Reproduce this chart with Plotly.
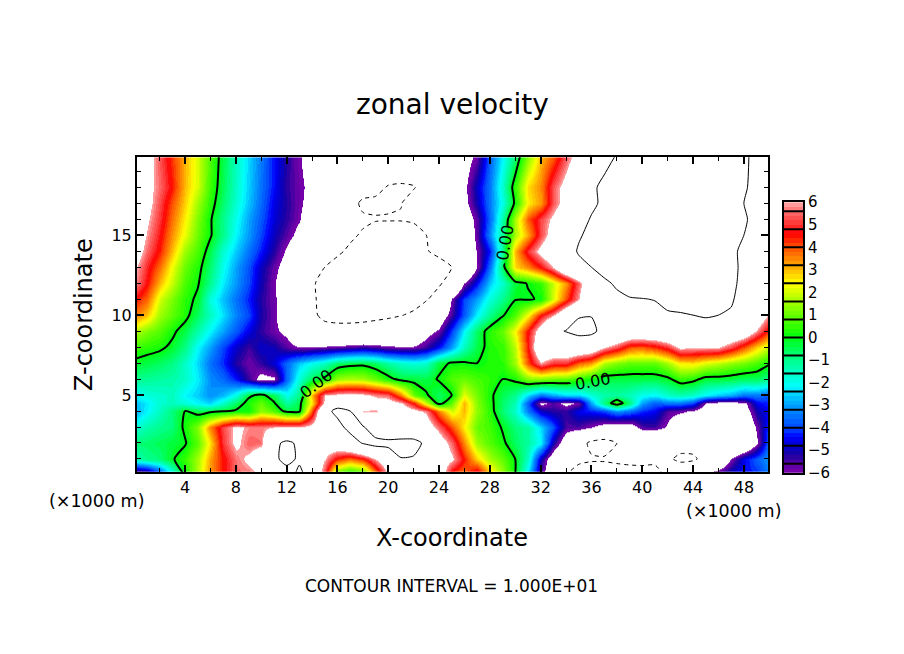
import numpy as np
import plotly.graph_objects as go

x_km = list(range(0, 51))
y_km = [0, 1, 2, 3, 4, 4.5, 5, 6, 7, 8, 9, 10, 11, 12, 13, 14, 15, 16, 17, 18, 20]

row_00 = [-7,-6.5,-4.6,-2.3,0.1,1.8,3.4,4.5,5.5,5.5,6,7,8.5,10.8,8.5,5,0.3,-0.5,0,3.2,5.9,7.5,8,8,7.5,4,3.5,5.5,3,1.5,0,-2.5,-5.5,-7.5,-10,-11,-11,-11,-11,-11,-11,-11,-9.5,-8,-6.8,-5.6,-5,-4.6,-4.4,-4.2,-3.4]
row_01 = [-1.5,-1,-0.8,-0.1,0.5,1.6,3.2,4.5,5.6,6.3,7.5,9.3,11,9.5,7,6,4.3,3.6,4.3,6,7.5,9.9,9.8,8.5,7,6.2,4.5,2.8,1.6,0.9,0,-1.6,-5,-7,-8.5,-9.5,-9.8,-9.8,-9.6,-9.4,-9.3,-9.4,-9.6,-10.5,-10.4,-9.2,-8,-5.9,-4.5,-3.7,-3.1]
row_02 = [-0.8,-0.7,-0.5,-0.3,-0.1,0.9,2.6,5,6.3,5.4,5.6,9.3,10.6,9.5,7,7,7.5,8.5,10.2,11,11,11,10.8,9.5,7,5.5,3.5,1.5,0.8,0.2,-0.6,-1.2,-2.2,-5,-7,-9,-10.5,-11,-10,-9.5,-9,-9,-9,-9,-9,-9,-9,-8.5,-8,-6.1,-3.5]
row_03 = [-1.8,-1.3,-1,-0.8,0.2,1.3,3.5,5.2,6.3,5.8,5.7,6,6.1,6.1,6.5,7.5,9,11,10.3,8,6.2,7,7.5,7,5.5,4,2.5,1,0.6,-0.1,-0.8,-1.2,-2.5,-3.8,-5.5,-5.5,-6,-6.5,-6.8,-6.8,-5.5,-5.4,-6.2,-7.5,-8,-8.5,-8.8,-8.5,-7.5,-5.8,-4]
row_04 = [-3,-2.2,-1.5,-0.8,0,-0.4,-0.3,-0.1,0.1,0.1,1.4,0.8,-0.3,-0.3,4,9,10.8,10,5.9,5.9,7,7,6.5,5.8,3.6,2,3,1.4,0.4,-0.8,-1.6,-3.4,-4.8,-5.2,-5.3,-4.5,-4.3,-4,-3.2,-3.6,-4.2,-4.5,-5.6,-5.8,-6.2,-7,-8,-8,-6.8,-5,-4.5]
row_045 = [-2.8,-2.3,-1.7,-1.5,-1.8,-2.2,-2.5,-1.6,-0.6,0.3,1,0.1,-1.2,-0.4,2.6,6.4,8.5,8,6.8,6.6,6.8,6.2,4.5,2,-0.5,1,3.1,1.3,0.3,-0.7,-1.4,-3.8,-6.3,-5.6,-6.3,-5.8,-3,-0.9,0.8,-0.9,-3,-3.8,-3.5,-3.5,-4,-6.1,-6.5,-6.5,-6.3,-4.5,-4.2]
row_05 = [-2.2,-1.8,-1.7,-1.5,-2.2,-2.6,-3.2,-2.8,-1.9,-0.2,0.2,-0.5,-2,-1,3,6,6.3,6.5,6.3,5.8,5.5,3.6,1,0.1,-0.6,0,2.2,1.1,0.2,-0.5,-1,-2.5,-3.5,-3,-2.5,-2.5,-1.8,-1.3,-1.2,-1.5,-2,-2.2,-1.6,-1.4,-1.6,-2.2,-2.6,-2.9,-3.5,-3.4,-3.8]
row_06 = [-1,-1.1,-1.2,-1.3,-1.6,-2.3,-3.2,-3.6,-4.3,-5.4,-6.4,-6.2,-3.6,-1.8,-0.5,0.2,1.5,1.7,1.6,1,0.3,-0.3,-0.3,-0.4,0.1,0.8,1,0.7,0.4,0,0.2,1.2,1.2,1,0.9,0.4,0,-0.4,-0.4,-0.4,-0.4,-0.4,-0.2,0.5,0.3,-0.3,-0.3,-0.4,-0.6,-0.6,-1]
row_07 = [-0.2,-0.4,-0.6,-0.9,-1.6,-2.5,-3.5,-4.2,-5.2,-5.8,-5.3,-4.7,-3.6,-2.6,-2,-1.5,-0.7,-0.4,-0.3,-0.6,-1.2,-1.6,-1.8,-1.6,-0.3,0.1,0.1,0,0.3,0.4,1.5,4,5.9,5,5,3.8,3.3,1.7,1.2,0.9,0.9,0.9,1.6,2.5,2.6,2.1,1.8,1.4,1.1,0.7,0.1]
row_08 = [0.6,0.4,0.2,-0.2,-0.9,-2.2,-3,-4,-4.8,-5.4,-4.8,-5,-5.6,-6,-5.9,-5.8,-5.7,-5.5,-5.3,-5.5,-5.8,-5.9,-5.9,-5.4,-4.4,-3,-1.5,-0.4,0.3,0.5,1.8,4.6,8,8,8,8,7.5,6.1,5.2,4,3.9,4.3,5,6.3,6.1,6.1,6.1,5.2,4,2.8,1.9]
row_09 = [1.8,1.2,0.8,0.2,-0.4,-1.3,-2.2,-3,-3.8,-4.6,-5.3,-5.8,-6.3,-7.6,-8.6,-9.2,-9,-9,-9,-8.8,-8.5,-8,-7.5,-6.5,-5.8,-4,-2.2,-0.6,0.4,1,2.4,4.6,7,9.5,10.1,10.8,10.7,9,8.5,8,8,8,8.5,9,9,9,8.5,8,7.5,5.8,4.2]
row_10 = [3.7,2.9,1.5,0.9,0.3,-0.6,-1.5,-2.4,-3.3,-4,-5.1,-5.8,-7,-8.6,-9.6,-10.5,-11,-11,-10.8,-10.6,-10.4,-10.1,-9.6,-8.4,-7,-5.4,-3.8,-2.2,-1,-0.1,0.7,2.4,4.6,5.9,8,9.8,9.9,9,8.5,8.5,8.8,9.2,9.6,9.8,10,10.2,10,9.6,8.2,7.5,5.8]
row_11 = [4.6,3.8,2,1.2,0.4,-0.2,-1.8,-2.7,-3.5,-4.3,-5.2,-5.8,-7,-8.6,-9.8,-10.4,-11,-11,-11,-11,-11,-11,-11,-10.2,-9,-5.8,-4,-3,-1.8,-1,-0.05,-0.1,0.1,2,4,6,8.4,9,9.4,9.7,9.9,10.1,11,11,11,11,11,10.4,8.6,7.6,6.8]
row_12 = [6,4.6,3,1.9,0.7,0.1,-1,-2.3,-3.1,-4,-5,-5.9,-7,-8.5,-9.7,-10.8,-11.5,-11.5,-11.5,-11.5,-11.5,-11.5,-11.5,-11,-10.3,-9,-6,-4.4,-2.6,-1.6,-0.3,0.05,0.5,1.9,3.3,5.5,7.5,9.5,10.4,12,12,12,12,12,12,12,12,10.5,9.4,8.5,7.8]
row_13 = [6.3,4.9,3.7,2.3,1,0.3,-0.7,-2,-3,-3.9,-4.9,-5.7,-6.6,-7.8,-9,-10,-10.6,-11,-11,-11.2,-11.2,-11.2,-11.2,-11,-10.6,-10,-8.5,-6,-3.5,-0.5,2.7,3.5,4.6,6,8.4,9.4,10,11,12,12,12,12,12,12,12,12,12,10.6,9.5,8.5,8]
row_14 = [7,5.5,4.4,3,1.5,0.7,-0.4,-1.7,-2.6,-3.5,-4.3,-5.2,-6.2,-7.2,-8.2,-9,-9.7,-10.3,-10.8,-11,-11,-11,-10.8,-10.1,-9.6,-8.8,-7.6,-5.9,-4.3,-1,3,5,6.5,7.8,9,10.2,11,11.8,11.8,11.8,11.8,11.8,11.8,11.8,11.8,11.8,11.8,10.4,9.6,9,8.5]
row_15 = [7.2,5.9,4.7,3.4,2.2,1,0.1,-1,-2.2,-3.1,-4,-4.9,-5.6,-6.4,-7.5,-8.4,-9.2,-9.7,-10.2,-10.6,-10.8,-10.8,-10.6,-10,-9.3,-8.5,-7.6,-5.6,-3.2,-1,1.6,3.2,5.2,6.8,8.2,9.8,10.5,11.5,11.5,11.5,11.5,11.5,11.5,11.5,11.5,11.5,11.5,10.8,10,9.3,8.8]
row_16 = [7.5,6.2,5,3.7,2.5,1.2,0.1,-1,-2,-3,-3.8,-4.7,-5.3,-5.9,-7,-8,-9,-9.9,-9.7,-9.9,-9.9,-9.9,-9.8,-9.2,-8.6,-7.8,-7,-5.6,-3.6,-1.2,1.6,3.9,5.2,6.3,7.6,9,10.2,10.8,11.5,11.5,11.5,11.5,11.5,11.5,11.5,11.5,11.5,11,10.2,9.5,9]
row_17 = [7.8,6.5,5.2,4,2.8,1.5,0.4,-0.7,-1.7,-2.7,-3.6,-4.6,-5.2,-5.8,-6.5,-7.3,-8.2,-9.2,-10.4,-10.3,-10.2,-10.05,-9.4,-8.9,-8.2,-7.5,-6.4,-5,-3.4,-1.9,0.2,2.5,3.3,5.3,6.8,8.3,9.5,10.5,11.3,11.3,11.3,11.3,11.3,11.3,11.3,11.3,11.3,11,10,9.3,9]
row_18 = [8,6.5,5.5,4.5,3,2,0.6,-0.5,-1.6,-2.6,-3.5,-4.4,-5.3,-5.8,-6.3,-7,-7.8,-8.4,-9,-9.6,-10.1,-10.2,-10.1,-9.4,-8.6,-7.8,-6.3,-4.8,-3.4,-1.6,0.5,2.7,3.5,5.3,6.6,8,9.6,10.5,11,11.3,11.5,11.5,11.5,11.5,11.5,11.5,11.5,11,10.2,9.5,9.2]
row_20 = [8.5,6.6,5.3,4.2,3.1,2,0.8,-0.4,-1.5,-2.5,-3.4,-4.4,-5.2,-5.9,-6.6,-7,-7.5,-8,-8.3,-8.5,-8.5,-8.5,-8.3,-8,-7.6,-7.2,-6.6,-5.8,-3.7,-2.2,-0.8,1.2,3,3.8,5.3,6.8,8,9.2,10.1,10.5,10.8,11,11,11,11,11,10.8,10.5,10.2,9.7,9.5]

all_rows = [row_00, row_01, row_02, row_03, row_04, row_045, row_05, row_06, row_07, row_08, row_09,
            row_10, row_11, row_12, row_13, row_14, row_15, row_16, row_17, row_18, row_20]
z = np.array(all_rows, dtype=float)

# Grid nodes left out of the zero contour so that it breaks where its labels sit.
label_gap_x = [14, 14, 29, 29, 35, 36]
label_gap_y = [5, 6, 14, 15, 6, 6]
zero_labels_text = ["0.00", "0.00", "0.00"]
zero_labels_x = [14.35, 29.2, 36.1]
zero_labels_y = [5.75, 14.55, 5.85]
zero_labels_angle = [-38, -80, -10]

z_zero = z.copy()
for gx, gy in zip(label_gap_x, label_gap_y):
    z_zero[y_km.index(gy), x_km.index(gx)] = np.nan

scale_values = [-6, -5.6, -5.2, -4.8, -4.4, -4, -3.2, -2.4, -2.2, -1.6, -0.8, 0, 0.4, 1.6, 2.4, 3.2, 4, 4.6, 5, 5.6, 6]
scale_r = [125, 90, 30, 0, 0, 0, 0, 0, 0, 0, 0, 0, 40, 165, 255, 255, 255, 255, 255, 255, 255]
scale_g = [0, 0, 0, 0, 0, 70, 140, 225, 255, 255, 255, 255, 255, 255, 255, 165, 80, 0, 50, 110, 170]
scale_b = [170, 165, 160, 200, 255, 255, 255, 255, 255, 200, 120, 20, 0, 0, 0, 0, 0, 0, 50, 110, 170]

BAND = 0.2
band_edges = np.round(np.arange(-6, 6 + BAND / 2, BAND), 3)
ZMIN, ZMAX = -7.0, 7.0
def pos(v):
    return (float(v) - ZMIN) / (ZMAX - ZMIN)

colorscale = [[0, "#ffffff"], [pos(-6), "#ffffff"]]
for lo, hi in zip(band_edges[:-1], band_edges[1:]):
    mid = (lo + hi) / 2
    c = "rgb(%d,%d,%d)" % tuple(int(round(np.interp(mid, scale_values, ch))) for ch in (scale_r, scale_g, scale_b))
    colorscale += [[pos(lo), c], [pos(hi), c]]
colorscale += [[pos(6), "#ffffff"], [1, "#ffffff"]]

cbar_ticks = [-6, -5, -4, -3, -2, -1, 0, 1, 2, 3, 4, 5, 6]
cbar_edges = [-5.6, -4.8, -4, -3.2, -2.4, -1.6, -0.8, 0, 0.8, 1.6, 2.4, 3.2, 4, 4.8, 5.6]

W, H = 904, 654
FONT = "DejaVu Sans"

def fy(py):
    return 1 - (py - 8.5) / 637

fig = go.Figure()

fig.add_trace(go.Heatmap(x=x_km, y=y_km, z=z, zsmooth="best", zmin=ZMIN, zmax=ZMAX,
                         colorscale=colorscale, showscale=False, hoverinfo="skip"))

def contour(field, level, width, dash="solid"):
    return go.Contour(x=x_km, y=y_km, z=field, autocontour=False, showscale=False, hoverinfo="skip",
                      connectgaps=False,
                      contours=dict(start=level, end=level, size=1, coloring="none", showlabels=False),
                      line=dict(color="black", width=width, dash=dash, smoothing=0.6))

fig.add_trace(contour(z, 10, 1))
fig.add_trace(contour(z, -10, 1, dash="4px,4px"))
fig.add_trace(contour(z_zero, 0, 2))

fig.add_trace(go.Heatmap(x=[0, 1], y=band_edges, z=[[(a + b) / 2] for a, b in zip(band_edges[:-1], band_edges[1:])],
                         zmin=ZMIN, zmax=ZMAX, colorscale=colorscale, showscale=False, hoverinfo="skip",
                         xaxis="x2", yaxis="y2"))
line_x, line_y = [], []
for e in cbar_edges:
    line_x += [0, 1, None]
    line_y += [e, e, None]
fig.add_trace(go.Scatter(x=line_x, y=line_y, mode="lines", line=dict(color="black", width=2),
                         hoverinfo="skip", showlegend=False, xaxis="x2", yaxis="y2"))

axis_common = dict(showgrid=False, zeroline=False, showline=True, linecolor="black", linewidth=2,
                   mirror="ticks", ticks="inside", tickcolor="black", tickwidth=2, ticklen=7,
                   tickfont=dict(family=FONT, size=16, color="black"))
fig.update_layout(
    width=W, height=H, margin=dict(l=0, r=0, t=0, b=0), autosize=False,
    paper_bgcolor="white", plot_bgcolor="white", showlegend=False,
    xaxis=dict(domain=[137 / W, 768 / W], range=[0.22, 49.9], tick0=0, dtick=4,
               minor=dict(dtick=2, ticks="inside", ticklen=4, tickwidth=1, tickcolor="black"), **axis_common),
    yaxis=dict(domain=[fy(472), fy(157)], range=[0.2, 19.875], tick0=0, dtick=5,
               minor=dict(dtick=1, ticks="inside", ticklen=4, tickwidth=1, tickcolor="black"), **axis_common),
    xaxis2=dict(domain=[784 / W, 803 / W], range=[0, 1], anchor="y2", showgrid=False, zeroline=False,
                showticklabels=False, ticks="", showline=True, linecolor="black", linewidth=2, mirror=True),
    yaxis2=dict(domain=[fy(473), fy(202)], range=[-6, 6], anchor="x2", side="right", showgrid=False,
                zeroline=False, tickvals=cbar_ticks, ticks="", showline=True, linecolor="black", linewidth=2,
                mirror=True, tickfont=dict(family=FONT, size=15, color="black")),
)

for s, lx, ly, ang in zip(zero_labels_text, zero_labels_x, zero_labels_y, zero_labels_angle):
    fig.add_annotation(text=s, x=lx, y=ly, xref="x", yref="y", showarrow=False, textangle=ang,
                       font=dict(family=FONT, size=16, color="black"))

def text(s, px, py, size, angle=0):
    fig.add_annotation(text=s, x=px / W, y=fy(py), xref="paper", yref="paper", showarrow=False,
                       xanchor="center", yanchor="middle", textangle=angle,
                       font=dict(family=FONT, size=size, color="black"))

text("zonal velocity", 452, 104, 28)
text("X-coordinate", 452, 538, 24)
text("Z-coordinate", 84, 315, 24, -90)
text("(×1000 m)", 96, 501, 17.5)
text("(×1000 m)", 733, 511, 17.5)
text("CONTOUR INTERVAL = 1.000E+01", 451, 586, 17)

fig.write_html("out.html", post_script="document.body.style.margin='0';",
               config={"displayModeBar": False})
